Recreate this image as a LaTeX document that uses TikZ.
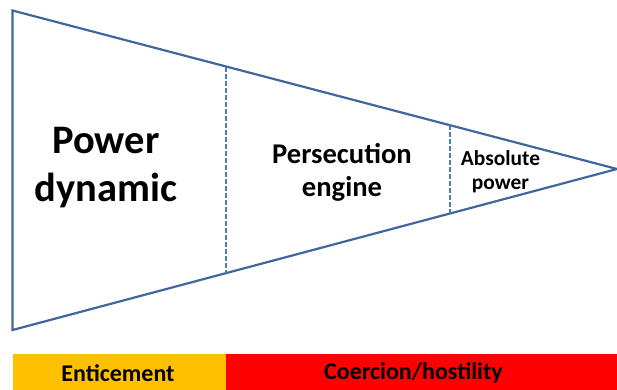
\documentclass[tikz,border=0pt]{standalone}
\usepackage{fontspec}
\setmainfont{Carlito}
\usetikzlibrary{positioning,calc}

\definecolor{funnelblue}{HTML}{41669B}
\definecolor{splitblue}{HTML}{4A7EBB}
\definecolor{barorange}{HTML}{FFC000}
\definecolor{barred}{HTML}{FF0000}

\tikzset{
  stage/.style={font=\bfseries, align=center, inner sep=0pt},
  split/.style={draw=splitblue, line width=2pt, dash pattern=on 5pt off 2pt},
  bar/.style={minimum height=37pt, inner sep=0pt, anchor=north west},
}

\begin{document}
\begin{tikzpicture}[x=1pt,y=-1pt]
  \useasboundingbox (0,0) rectangle (617,389);
  % funnel
  \coordinate (tl) at (12.5,10.5);
  \coordinate (bl) at (12.5,330);
  \coordinate (tip) at (617,169);
  \draw [funnelblue, line width=2.2pt] (tl) -- (tip) -- (bl) -- cycle;
  % splits between stages
  \coordinate (s1t) at ($(tl)!0.3537!(tip)$);
  \coordinate (s1b) at ($(bl)!0.3537!(tip)$);
  \coordinate (s2t) at ($(tl)!0.724!(tip)$);
  \coordinate (s2b) at ($(bl)!0.724!(tip)$);
  \draw [split] (s1t) -- (s1b);
  \draw [split] (s2t) -- (s2b);
  % stages
  \node [stage, font=\bfseries\fontsize{40.5}{48}\selectfont] (power) at (106,168) {Power\\dynamic};
  \node [stage, font=\bfseries\fontsize{28.6}{33}\selectfont] (persecution) at (342,172) {Persecution\\engine};
  \node [stage, font=\bfseries\fontsize{21.4}{24}\selectfont] (absolute) at (500.5,172) {Absolute\\power};
  % bottom bar
  \node [bar, fill=barorange, minimum width=213pt] (enticebar) at (12.5,354) {};
  \node [bar, fill=barred, minimum width=391.5pt, right=0pt of enticebar] (coercebar) {};
  \node [stage, font=\bfseries\fontsize{24}{28}\selectfont] (enticement) at (118,373) {Enticement};
  \node [stage, font=\bfseries\fontsize{24}{28}\selectfont] (coercion) at (413.5,373) {Coercion/hostility};
\end{tikzpicture}
\end{document}
